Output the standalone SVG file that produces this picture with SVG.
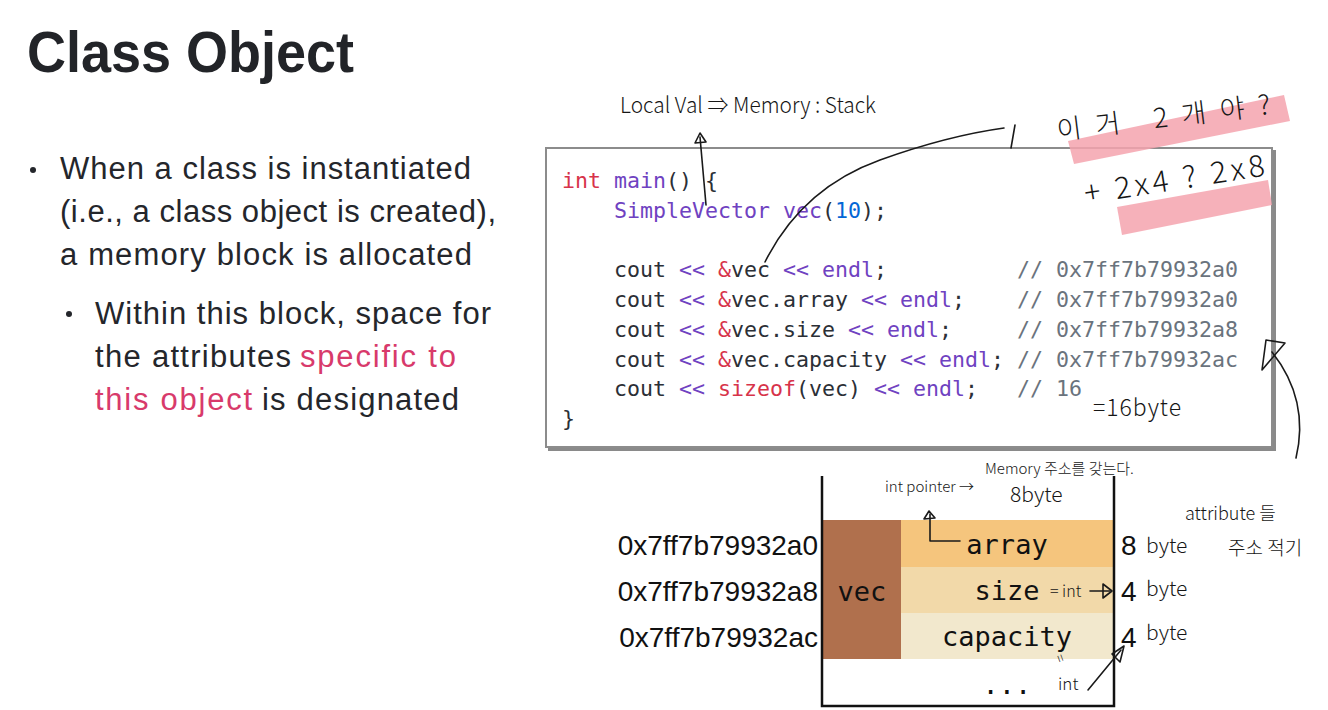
<svg xmlns="http://www.w3.org/2000/svg" width="1328" height="710" viewBox="0 0 1328 710">
<style>
.title{font-family:"Liberation Sans",Arial,sans-serif;font-weight:bold;fill:#222428}
.body{font-family:"Liberation Sans",Arial,sans-serif;font-size:31px;fill:#24262b}
.pink{fill:#d83a6b}
.code{font-family:"DejaVu Sans Mono",monospace;font-size:21.6px;fill:#2b2f36}
.r{fill:#d7334a}.p{fill:#6f42c1}.b{fill:#0366d6}.g{fill:#6a737d}
.addr{font-family:"Liberation Sans",Arial,sans-serif;font-size:28px;fill:#111}
.cell{font-family:"DejaVu Sans Mono",monospace;font-size:27px;fill:#111;text-anchor:middle}
.hand{font-family:"Noto Sans CJK KR","Liberation Sans Narrow",sans-serif;font-weight:300;fill:#161616}
.ink{fill:none;stroke:#1a1a1a;stroke-width:1.6;stroke-linecap:round;stroke-linejoin:round}
.hl{fill:#f4a3ae;opacity:0.85}
</style>
<rect width="1328" height="710" fill="#ffffff"/>

<g id="title"><text class="title" x="27" y="72" font-size="57" textLength="327" lengthAdjust="spacingAndGlyphs">Class Object</text></g>

<g id="bullets">
<circle cx="33" cy="170" r="3" fill="#24262b"/>
<text class="body" x="60" y="179" textLength="411" lengthAdjust="spacing">When a class is instantiated</text>
<text class="body" x="60" y="222" textLength="436" lengthAdjust="spacing">(i.e., a class object is created),</text>
<text class="body" x="60" y="265" textLength="412" lengthAdjust="spacing">a memory block is allocated</text>
<circle cx="69" cy="314" r="3" fill="#24262b"/>
<text class="body" x="95" y="324" textLength="396" lengthAdjust="spacing">Within this block, space for</text>
<text class="body" x="95" y="367" textLength="196" lengthAdjust="spacing">the attributes</text>
<text class="body pink" x="300" y="367" textLength="156" lengthAdjust="spacing">specific to</text>
<text class="body pink" x="95" y="410" textLength="157" lengthAdjust="spacing">this object</text>
<text class="body" x="262" y="410" textLength="197" lengthAdjust="spacing">is designated</text>
</g>

<g id="code-box">
<rect x="548" y="150" width="728" height="301" fill="#8a8a8a"/>
<rect x="546" y="148" width="726" height="299" fill="#ffffff" stroke="#8c8c8c" stroke-width="2"/>
<text class="code" x="562" y="188" xml:space="preserve"><tspan class="r">int</tspan> <tspan class="p">main</tspan>() {</text>
<text class="code" x="614" y="218" xml:space="preserve"><tspan class="p">SimpleVector vec</tspan>(<tspan class="b">10</tspan>);</text>
<text class="code" x="614" y="277" xml:space="preserve">cout <tspan class="p">&lt;&lt;</tspan> <tspan class="r">&amp;</tspan>vec <tspan class="p">&lt;&lt; endl</tspan>;</text>
<text class="code" x="614" y="307" xml:space="preserve">cout <tspan class="p">&lt;&lt;</tspan> <tspan class="r">&amp;</tspan>vec.array <tspan class="p">&lt;&lt; endl</tspan>;</text>
<text class="code" x="614" y="337" xml:space="preserve">cout <tspan class="p">&lt;&lt;</tspan> <tspan class="r">&amp;</tspan>vec.size <tspan class="p">&lt;&lt; endl</tspan>;</text>
<text class="code" x="614" y="367" xml:space="preserve">cout <tspan class="p">&lt;&lt;</tspan> <tspan class="r">&amp;</tspan>vec.capacity <tspan class="p">&lt;&lt; endl</tspan>;</text>
<text class="code" x="614" y="396" xml:space="preserve">cout <tspan class="p">&lt;&lt;</tspan> <tspan class="r">sizeof</tspan>(vec) <tspan class="p">&lt;&lt; endl</tspan>;</text>
<text class="code" x="562" y="426">}</text>
<text class="code g" x="1017" y="277">// 0x7ff7b79932a0</text>
<text class="code g" x="1017" y="307">// 0x7ff7b79932a0</text>
<text class="code g" x="1017" y="337">// 0x7ff7b79932a8</text>
<text class="code g" x="1017" y="367">// 0x7ff7b79932ac</text>
<text class="code g" x="1017" y="396">// 16</text>
</g>

<g id="highlights">
<polygon class="hl" points="1068,141 1284,95 1290,121 1074,164"/>
<polygon class="hl" points="1117,207 1268,180 1272,205 1122,235"/>
</g>

<g id="memory">
<rect x="822" y="520" width="79" height="139" fill="#b0704d"/>
<rect x="901" y="520" width="212" height="47" fill="#f5c57d"/>
<rect x="901" y="567" width="212" height="46" fill="#f2d9a9"/>
<rect x="901" y="613" width="212" height="46" fill="#f2e8cd"/>
<path d="M822,476 V706 H1114 V476" fill="none" stroke="#111" stroke-width="2.5"/>
<text class="cell" x="862" y="601">vec</text>
<text class="cell" x="1007" y="554">array</text>
<text class="cell" x="1007" y="600">size</text>
<text class="cell" x="1007" y="646">capacity</text>
<text class="cell" x="1007" y="694" font-size="16">...</text>
<text class="addr" x="818" y="555" text-anchor="end">0x7ff7b79932a0</text>
<text class="addr" x="818" y="601" text-anchor="end">0x7ff7b79932a8</text>
<text class="addr" x="818" y="647" text-anchor="end">0x7ff7b79932ac</text>
<text class="addr" x="1121" y="555">8</text>
<text class="addr" x="1121" y="601">4</text>
<text class="addr" x="1121" y="647">4</text>
</g>

<g id="annotations">
<text class="hand" x="620" y="113" font-size="22" textLength="256" lengthAdjust="spacingAndGlyphs">Local Val ⇒ Memory : Stack</text>
<text class="hand" x="1058" y="140" font-size="27" textLength="215" lengthAdjust="spacing" transform="rotate(-7 1058 140)">이거  2개야?</text>
<text class="hand" x="1086" y="204" font-size="30" textLength="182" lengthAdjust="spacing" transform="rotate(-9 1086 204)">+ 2x4 ? 2x8</text>
<text class="hand" x="1093" y="416" font-size="23" textLength="88" lengthAdjust="spacing">=16byte</text>
<text class="hand" x="885" y="492" font-size="15">int pointer →</text>
<text class="hand" x="985" y="474" font-size="15">Memory 주소를 갖는다.</text>
<text class="hand" x="1010" y="502" font-size="21">8byte</text>
<text class="hand" x="1146" y="553" font-size="21">byte</text>
<text class="hand" x="1146" y="596" font-size="21">byte</text>
<text class="hand" x="1146" y="640" font-size="21">byte</text>
<text class="hand" x="1050" y="597" font-size="16">= int</text>
<text class="hand" x="1058" y="690" font-size="17">int</text>
<text class="hand" x="1056" y="666" font-size="14" transform="rotate(70 1062 660)">=</text>
<text class="hand" x="1185" y="520" font-size="18">attribute 들</text>
<text class="hand" x="1228" y="555" font-size="19">주소 적기</text>
</g>

<g id="connectors">
<path class="ink" d="M706,205 L700,137"/>
<path class="ink" d="M695,143 L700,133 L706,142 Z"/>
<path class="ink" d="M765,262 C790,212 830,178 880,160 S975,132 1004,128"/>
<path class="ink" d="M1015,125 L1011,148"/>
<path class="ink" d="M1296,458 C1305,420 1298,385 1272,352"/>
<path class="ink" d="M1262,370 L1266,340 L1285,343 Z" stroke-width="2"/>
<path class="ink" d="M960,541 H930 V514"/>
<path class="ink" d="M924,519 L929,511 L935,518 Z"/>
<path class="ink" d="M1090,591 H1110"/>
<path class="ink" d="M1103,584 L1112,591 L1103,598 Z" fill="#1a1a1a"/>
<path class="ink" d="M1088,690 L1121,650"/>
<path class="ink" d="M1112,654 L1124,646 L1120,662 Z"/>
</g>
</svg>
